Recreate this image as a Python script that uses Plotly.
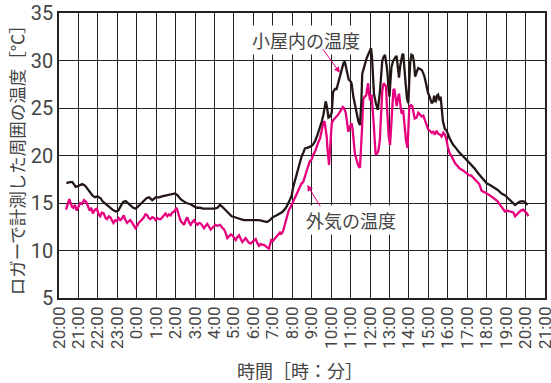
import plotly.graph_objects as go

# hours elapsed since 20:00 (day 1)
inside_hours = [0.38,0.55,0.69,0.86,1.0,1.2,1.35,1.46,1.6,1.72,1.85,1.97,2.14,2.23,2.4,2.57,2.75,2.92,3.05,3.18,3.3,3.43,3.55,3.69,3.82,3.95,4.05,4.2,4.37,4.5,4.63,4.8,4.97,5.15,5.3,5.49,5.65,5.83,5.97,6.1,6.26,6.4,6.55,6.74,6.9,7.08,7.25,7.4,7.6,7.8,8.0,8.15,8.28,8.4,8.54,8.7,8.88,9.05,9.3,9.5,9.74,9.9,10.1,10.3,10.5,10.7,10.85,11.0,11.2,11.45,11.6,11.7,11.85,11.97,12.05,12.14,12.22,12.3,12.4,12.48,12.57,12.65,12.75,12.9,13.05,13.17,13.3,13.43,13.52,13.6,13.68,13.72,13.78,13.86,13.94,14.03,14.1,14.2,14.28,14.36,14.45,14.55,14.63,14.7,14.76,14.82,14.9,15.0,15.05,15.14,15.22,15.3,15.4,15.48,15.55,15.6,15.67,15.74,15.82,15.9,15.98,16.05,16.1,16.15,16.2,16.3,16.4,16.5,16.57,16.63,16.7,16.77,16.85,16.9,16.95,17.0,17.05,17.1,17.18,17.25,17.32,17.37,17.43,17.49,17.55,17.6,17.66,17.71,17.77,17.83,17.9,17.97,18.02,18.07,18.13,18.2,18.26,18.32,18.4,18.48,18.57,18.66,18.73,18.8,18.9,18.98,19.08,19.17,19.25,19.3,19.38,19.45,19.5,19.58,19.63,19.7,19.75,19.85,19.94,20.1,20.25,20.45,20.6,20.8,21.0,21.14,21.35,21.57,21.8,22.0,22.17,22.34,22.55,22.77,22.95,23.1,23.3,23.46,23.6,23.71,23.85,23.97,24.1]
inside_temp = [17.1,17.2,17.2,16.7,16.8,17.0,16.8,16.5,16.1,15.8,15.6,15.7,15.5,15.2,14.9,14.6,14.3,14.1,14.2,14.7,15.1,15.2,15.0,14.7,14.5,14.4,14.6,15.0,15.3,15.5,15.6,15.3,15.6,15.6,15.7,15.8,15.9,16.0,16.0,15.8,15.4,15.2,15.0,14.9,14.7,14.5,14.5,14.4,14.4,14.4,14.4,14.5,14.8,14.6,14.3,13.9,13.6,13.5,13.3,13.2,13.2,13.2,13.2,13.2,13.1,13.0,13.2,13.5,13.7,14.0,14.3,14.6,15.2,15.8,16.7,17.4,18.1,18.7,19.4,19.9,20.3,20.75,20.8,20.9,21.1,21.5,22.2,23.0,23.6,24.3,25.5,25.7,25.2,24.0,24.1,24.5,26.7,27.0,27.0,27.6,28.3,29.0,29.7,29.9,29.3,28.6,28.0,27.8,27.6,26.2,25.3,24.4,23.6,23.2,25.5,28.6,29.2,29.7,30.2,30.6,31.0,31.3,30.4,28.5,26.5,25.5,24.8,26.5,28.5,30.0,30.4,30.6,29.5,28.6,27.0,26.2,27.8,29.3,29.9,30.1,30.4,30.4,29.4,28.2,29.4,30.2,30.6,30.7,29.5,27.6,26.0,25.5,28.0,29.9,30.6,30.5,29.8,28.3,28.8,29.2,29.1,29.0,28.7,28.3,27.4,26.6,26.1,25.5,25.7,26.3,25.6,26.3,26.4,25.8,26.2,25.0,23.6,22.8,22.6,21.8,21.2,20.7,20.3,19.9,19.5,19.2,18.7,18.1,17.5,17.07,16.9,16.7,16.4,16.0,15.8,15.5,15.1,14.8,15.0,15.14,15.2,15.1,14.8]

outside_hours = [0.36,0.45,0.53,0.6,0.67,0.74,0.82,0.91,1.0,1.09,1.18,1.29,1.4,1.5,1.58,1.66,1.74,1.85,1.95,2.04,2.12,2.2,2.3,2.4,2.47,2.56,2.64,2.72,2.8,2.9,2.98,3.07,3.15,3.25,3.33,3.42,3.5,3.6,3.67,3.8,3.93,4.02,4.1,4.2,4.3,4.37,4.45,4.54,4.62,4.7,4.8,4.9,4.97,5.06,5.15,5.23,5.32,5.4,5.48,5.57,5.65,5.74,5.83,5.92,6.0,6.05,6.15,6.26,6.35,6.43,6.52,6.6,6.68,6.77,6.86,6.95,7.03,7.12,7.2,7.29,7.38,7.46,7.55,7.63,7.72,7.8,7.9,8.0,8.05,8.15,8.28,8.4,8.5,8.58,8.66,8.75,8.84,8.92,9.0,9.09,9.17,9.26,9.35,9.43,9.52,9.6,9.7,9.78,9.86,9.95,10.04,10.12,10.2,10.29,10.38,10.46,10.55,10.63,10.72,10.8,10.86,10.92,11.0,11.08,11.15,11.25,11.37,11.45,11.52,11.6,11.68,11.75,11.83,11.9,11.97,12.05,12.14,12.22,12.3,12.38,12.48,12.56,12.65,12.74,12.82,12.9,13.0,13.08,13.17,13.26,13.34,13.43,13.5,13.56,13.6,13.66,13.72,13.77,13.82,13.86,13.89,13.94,13.98,14.03,14.1,14.2,14.28,14.36,14.45,14.52,14.6,14.68,14.75,14.8,14.88,14.96,15.05,15.1,15.16,15.22,15.3,15.4,15.48,15.53,15.58,15.65,15.72,15.8,15.87,15.9,15.95,16.0,16.08,16.14,16.2,16.26,16.29,16.36,16.43,16.5,16.57,16.63,16.7,16.76,16.82,16.86,16.9,16.96,17.03,17.09,17.15,17.2,17.25,17.31,17.37,17.43,17.49,17.55,17.62,17.7,17.76,17.81,17.85,17.93,17.98,18.02,18.1,18.17,18.23,18.3,18.4,18.48,18.57,18.66,18.74,18.8,18.9,19.0,19.08,19.17,19.25,19.33,19.42,19.5,19.6,19.68,19.77,19.85,19.94,20.0,20.1,20.2,20.37,20.5,20.6,20.8,20.97,21.1,21.2,21.35,21.5,21.62,21.74,21.85,22.0,22.17,22.3,22.42,22.55,22.69,22.8,22.94,23.05,23.2,23.37,23.46,23.55,23.63,23.75,23.88,23.97,24.07,24.14]
outside_temp = [14.3,15.0,15.4,15.0,14.6,14.5,14.8,14.2,14.6,15.0,14.9,15.3,15.1,14.6,14.2,14.5,13.9,14.3,14.4,13.8,13.6,14.0,13.9,13.4,13.3,13.6,13.5,13.2,12.9,13.2,13.1,13.4,13.2,13.4,13.7,13.2,12.9,13.1,13.2,12.8,12.35,12.6,12.9,13.1,13.3,13.5,13.8,13.7,13.4,13.3,13.5,13.4,13.2,13.4,13.3,13.3,13.5,13.7,13.9,13.6,13.8,13.7,14.0,14.1,14.4,14.5,13.8,13.1,12.9,12.7,13.2,13.5,13.0,12.7,13.0,13.2,12.9,12.7,12.9,12.85,12.6,12.35,12.6,12.8,12.5,12.2,12.4,12.6,12.7,12.6,12.7,12.4,12.2,11.8,11.3,11.5,11.7,11.6,11.3,11.1,11.4,11.6,11.2,10.9,11.1,11.3,11.0,10.8,10.75,10.9,11.1,11.2,10.8,10.5,10.7,10.6,10.6,10.4,10.3,10.2,10.6,11.1,11.0,11.2,11.3,11.5,11.9,11.8,12.0,12.6,13.2,13.6,14.3,14.5,14.8,15.3,15.6,16.0,16.3,16.7,17.07,17.2,17.8,18.3,19.0,19.4,19.6,20.1,20.4,21.0,21.4,21.8,22.6,23.0,23.5,23.6,22.6,22.0,20.5,19.2,19.0,20.5,21.8,23.4,23.7,23.9,24.1,24.3,24.6,24.9,25.1,24.9,24.5,23.8,22.5,23.0,23.4,22.8,21.2,20.2,19.6,18.9,18.7,20.2,22.5,25.9,26.2,26.3,27.2,27.6,26.5,25.8,26.4,25.0,23.0,21.0,20.1,20.2,20.5,21.5,25.1,26.8,27.6,27.5,27.3,25.5,23.4,22.0,21.1,23.0,25.8,26.9,27.0,26.0,25.2,26.0,26.5,25.5,24.4,24.8,23.3,22.2,21.6,20.8,22.5,25.1,25.3,25.2,24.6,23.9,24.0,24.5,24.3,24.1,24.2,23.9,23.4,22.7,22.6,22.4,22.5,22.2,22.6,22.3,22.2,22.0,22.4,22.2,21.6,20.9,20.2,19.9,19.2,18.9,18.65,18.4,18.1,17.9,17.9,17.6,17.25,17.0,16.3,16.2,16.0,15.8,15.6,15.4,15.2,14.8,14.5,14.1,14.2,14.1,14.0,13.6,13.8,14.0,14.2,14.3,14.1,13.9,13.6]

tick_hours = list(range(0, 26))
tick_labels = ["20:00", "21:00", "22:00", "23:00"] + [f"{h}:00" for h in range(0, 22)]

y_ticks = [5, 10, 15, 20, 25, 30, 35]

label_inside = "小屋内の温度"
label_outside = "外気の温度"
y_title = "ロガーで計測した周囲の温度［℃］"
x_title = "時間［時：分］"

FONT = "Noto Sans CJK JP"
TICKFONT = "Roboto"
TXT = "#444444"
MAGENTA = "#E6007E"
BLACK = "#231815"

fig = go.Figure()
fig.add_trace(go.Scatter(x=outside_hours, y=outside_temp, mode="lines",
                         line=dict(color=MAGENTA, width=2.3), name=label_outside))
fig.add_trace(go.Scatter(x=inside_hours, y=inside_temp, mode="lines",
                         line=dict(color=BLACK, width=2.3), name=label_inside))

annotations = [
    dict(x=12.7, y=32.2, text=label_inside, showarrow=False, bgcolor="white",
         font=dict(family=FONT, size=18, color=TXT)),
    dict(x=15.02, y=13.2, text=label_outside, showarrow=False, bgcolor="white",
         font=dict(family=FONT, size=18, color=TXT)),
    dict(x=14.45, y=28.7, text="", showarrow=True, ax=-18, ay=-25,
         arrowhead=2, arrowsize=1.2, arrowwidth=1, arrowcolor=MAGENTA),
    dict(x=12.77, y=16.9, text="", showarrow=True, ax=14, ay=23,
         arrowhead=2, arrowsize=1.2, arrowwidth=1, arrowcolor=MAGENTA),
    # axis titles
    dict(xref="paper", yref="paper", x=-0.087, y=0.5, text=y_title, textangle=-90,
         showarrow=False, xanchor="center", yanchor="middle",
         font=dict(family=FONT, size=17.5, color=TXT)),
    dict(xref="paper", yref="paper", x=0.495, y=-0.253, text=x_title,
         showarrow=False, xanchor="center", yanchor="middle",
         font=dict(family=FONT, size=18, color=TXT)),
]

fig.update_layout(
    width=551, height=383,
    margin=dict(l=59, r=6, t=13, b=85, autoexpand=False),
    paper_bgcolor="white", plot_bgcolor="white",
    showlegend=False,
    font=dict(family=FONT, size=18, color=TXT),
    annotations=annotations,
)
fig.update_xaxes(
    range=[0, 25], tickmode="array", tickvals=tick_hours, ticktext=tick_labels,
    tickangle=-90, tickfont=dict(family=TICKFONT, size=17, color=TXT),
    ticklabeloverflow="allow", automargin=False,
    showgrid=True, gridcolor="#222", gridwidth=1,
    showline=True, linecolor="#222", linewidth=1.5, mirror=True,
    zeroline=False, ticks="",
)
fig.update_yaxes(
    range=[5, 35], tickmode="array", tickvals=y_ticks,
    tickfont=dict(family=TICKFONT, size=20, color=TXT),
    ticklabeloverflow="allow", automargin=False,
    showgrid=True, gridcolor="#222", gridwidth=1,
    showline=True, linecolor="#222", linewidth=1.5, mirror=True,
    zeroline=False, ticks="",
)

fig.write_html("out.html", config={"displayModeBar": False},
               post_script="document.body.style.margin='0';document.body.style.overflow='hidden';")
